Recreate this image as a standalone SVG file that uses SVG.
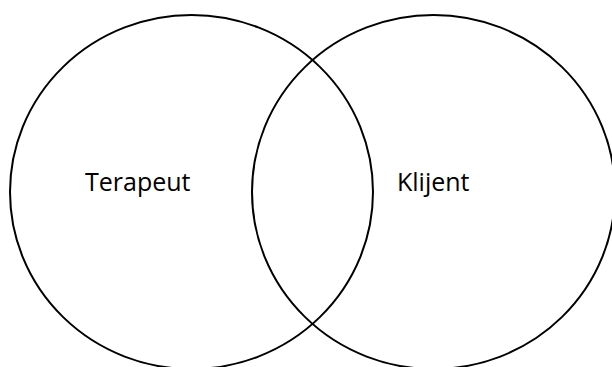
<svg xmlns="http://www.w3.org/2000/svg" width="612" height="367" viewBox="0 0 612 367">
<style>
.c{fill:none;stroke:#000;stroke-width:2}
.t{font-family:"Open Sans","Liberation Sans",sans-serif;font-size:25px;fill:#000}
</style>
<rect width="612" height="367" fill="#fff"/>
<g id="terapeut">
<ellipse class="c" cx="191.5" cy="192" rx="181.5" ry="177"/>
<text class="t" x="85" y="191">Terapeut</text>
</g>
<g id="klijent">
<ellipse class="c" cx="433.5" cy="192" rx="181.5" ry="177"/>
<text class="t" x="397" y="191">Klijent</text>
</g>
<g id="connectors"></g>
</svg>
